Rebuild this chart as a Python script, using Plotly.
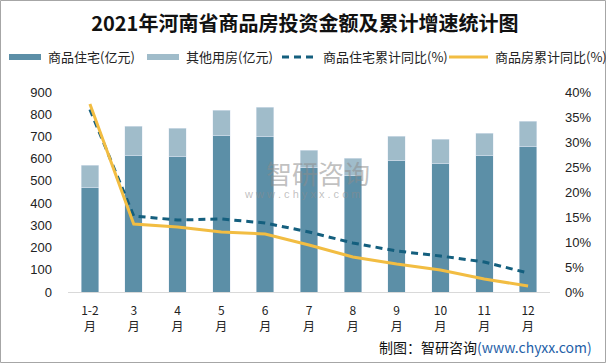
import plotly.graph_objects as go

months = ["1-2", "3", "4", "5", "6", "7", "8", "9", "10", "11", "12"]
tick_labels = [m + "<br>月" for m in months]
residential = [472, 616, 612, 706, 702, 562, 526, 594, 580, 616, 657]
total_bar = [571, 747, 738, 819, 832, 639, 603, 702, 688, 715, 769]
other = [t - r for t, r in zip(total_bar, residential)]
res_growth = [36.5, 15.2, 14.4, 14.6, 13.8, 12.0, 9.8, 8.2, 7.2, 6.0, 3.8]
all_growth = [37.6, 13.6, 13.0, 12.0, 11.6, 9.4, 7.0, 5.6, 4.4, 2.6, 1.2]
legend_names = ["商品住宅(亿元)", "其他用房(亿元)", "商品住宅累计同比(%)", "商品房累计同比(%)"]

C_DARK = "#5C8FA7"
C_LIGHT = "#A0BCCA"
C_DASH = "#145F7E"
C_YEL = "#F2BD42"
FONT = "Liberation Sans, Noto Sans CJK SC, sans-serif"
CJK = "Noto Sans CJK SC, sans-serif"

# plot-area geometry in pixels (for placing the hand-drawn legend/border)
L, T, W, H = 68, 92, 482, 200
px = lambda x: (x - L) / W
py = lambda y: (T + H - y) / H

fig = go.Figure()
fig.add_trace(go.Bar(x=months, y=residential, marker_color=C_DARK, width=0.4,
                     showlegend=False, name=legend_names[0]))
fig.add_trace(go.Bar(x=months, y=other, marker_color=C_LIGHT, width=0.4,
                     showlegend=False, name=legend_names[1]))
fig.add_trace(go.Scatter(x=months, y=res_growth, yaxis="y2", mode="lines",
                         line=dict(color=C_DASH, width=3, dash="7px,5px"),
                         showlegend=False, name=legend_names[2]))
fig.add_trace(go.Scatter(x=months, y=all_growth, yaxis="y2", mode="lines",
                         line=dict(color=C_YEL, width=3),
                         showlegend=False, name=legend_names[3]))

# legend drawn as shapes + text
LEG_Y = 57
swatches = [(9, 41, C_DARK, "bar"), (147, 179, C_LIGHT, "bar"),
            (282, 314, C_DASH, "dash"), (449, 488, C_YEL, "line")]
text_x = [46, 184, 321, 493]
shapes = [dict(type="rect", xref="paper", yref="paper",
               x0=px(0.5), x1=px(605.5), y0=py(362.5), y1=py(0.5),
               line=dict(color="#A6A6A6", width=1), fillcolor="rgba(0,0,0,0)",
               layer="below")]
annotations = []
for (x0, x1, col, kind), tx, name in zip(swatches, text_x, legend_names):
    if kind == "bar":
        shapes.append(dict(type="rect", xref="paper", yref="paper",
                           x0=px(x0), x1=px(x1), y0=py(LEG_Y + 3), y1=py(LEG_Y - 3),
                           line=dict(width=0), fillcolor=col))
    else:
        shapes.append(dict(type="line", xref="paper", yref="paper",
                           x0=px(x0), x1=px(x1), y0=py(LEG_Y), y1=py(LEG_Y),
                           line=dict(color=col, width=3,
                                     dash="7px,5px" if kind == "dash" else "solid")))
    annotations.append(dict(text=name, xref="paper", yref="paper", x=px(tx),
                            xanchor="left", y=py(LEG_Y), yanchor="middle",
                            showarrow=False,
                            font=dict(family=CJK, size=13, color="#222")))

annotations += [
    dict(text="智研咨询", xref="paper", yref="paper", x=px(318),
         y=py(172), showarrow=False,
         font=dict(family=CJK, size=26, color="rgba(140,140,140,0.55)")),
    dict(text="w w w . c h y x x . c o m", xref="paper", yref="paper",
         x=px(302), y=py(194), showarrow=False,
         font=dict(family=FONT, size=11, color="rgba(140,140,140,0.55)")),
    dict(text="制图：智研咨询<span style='color:#1F5FA8'>(www.chyxx.com)</span>",
         xref="paper", yref="paper", x=px(594), xanchor="right",
         y=py(347), yanchor="middle", showarrow=False,
         font=dict(family=CJK, size=14, color="#111")),
]

fig.update_layout(
    width=606, height=363,
    margin=dict(l=L, r=606 - L - W, t=T, b=363 - T - H, autoexpand=False),
    paper_bgcolor="white", plot_bgcolor="white",
    barmode="stack", bargap=0.6, showlegend=False,
    font=dict(family=FONT, size=13, color="#222"),
    title=dict(text="<b>2021年河南省商品房投资金额及累计增速统计图</b>",
               x=0.503, xanchor="center", y=0.935, yanchor="middle",
               font=dict(family=CJK, size=20, color="#111")),
    xaxis=dict(type="category", tickmode="array", tickvals=months, ticktext=tick_labels,
               showline=True, linecolor="#D9D9D9", linewidth=1, showgrid=False,
               ticks="", ticklabelstandoff=8,
               tickfont=dict(family=CJK, size=12, color="#222"),
               range=[-0.5, 10.5]),
    yaxis=dict(range=[0, 900], dtick=100, showgrid=False, zeroline=False,
               showline=False, ticks="", ticklabelstandoff=15,
               tickfont=dict(size=13, color="#222")),
    yaxis2=dict(range=[0, 40], dtick=5, ticksuffix="%", overlaying="y", side="right",
                showgrid=False, zeroline=False, showline=False, ticks="",
                ticklabelstandoff=14, tickfont=dict(size=13, color="#222")),
    shapes=shapes,
    annotations=annotations,
)

fig.write_html("out.html", config={"displayModeBar": False},
               post_script="document.body.style.margin='0';document.body.style.overflow='hidden';")
